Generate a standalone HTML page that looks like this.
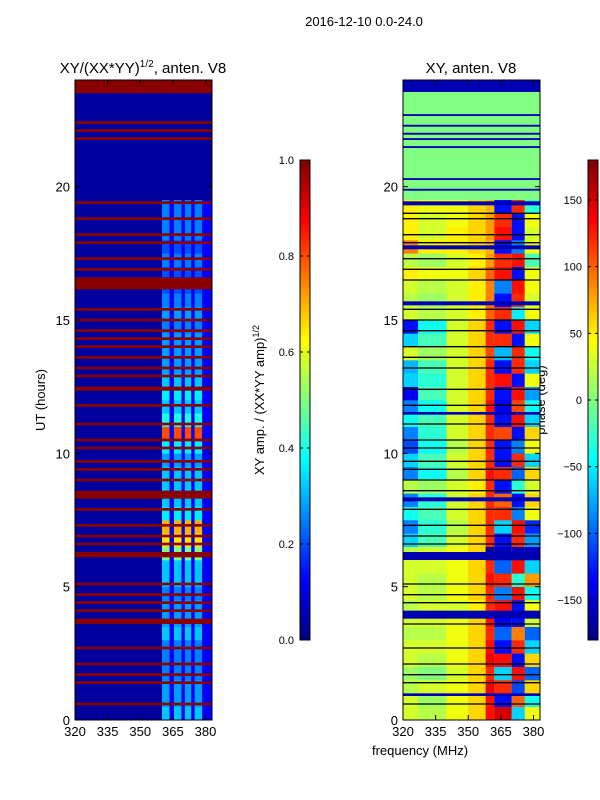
<!DOCTYPE html>
<html><head><meta charset="utf-8"><style>
html,body{margin:0;padding:0;background:#fff;width:600px;height:800px;overflow:hidden}
svg text{font-family:"Liberation Sans","DejaVu Sans",sans-serif;fill:#000}
</style></head><body>
<svg id="svg" width="600" height="800" xmlns="http://www.w3.org/2000/svg">
<text x="364" y="26" font-size="13" text-anchor="middle">2016-12-10 0.0-24.0</text>
<text x="143" y="73" font-size="15" text-anchor="middle">XY/(XX*YY)<tspan font-size="10" dy="-6">1/2</tspan><tspan dy="6">, anten. V8</tspan></text>
<text x="471" y="73" font-size="15" text-anchor="middle">XY, anten. V8</text>
<text transform="translate(45,400) rotate(-90)" font-size="13" text-anchor="middle">UT (hours)</text>
<text transform="translate(264,400) rotate(-90)" font-size="13" text-anchor="middle">XY amp. / (XX*YY amp)<tspan font-size="9" dy="-5">1/2</tspan></text>
<text transform="translate(545,400) rotate(-90)" font-size="13" text-anchor="middle">phase (deg)</text>
<text x="420" y="755" font-size="13" text-anchor="middle">frequency (MHz)</text>
</svg>
<script>
// ---- data ----
const xTicks=[320,335,350,365,380];
const yTicks=[0,5,10,15,20];
const ampTicks=[0.0,0.2,0.4,0.6,0.8,1.0];
const phaseTicks=[-150,-100,-50,0,50,100,150];
const leftFreqEdges=[320,360,363.5,365.5,369,370.5,373.5,375,378.5,383];
const leftBright=[0.32,0.28,0.28,0.25,0.25,0.25,0.32,0.28,0.28,0.25,0.32,0.32,0.5,0.65,0.7,0.36,0.32,0.32,0.32,0.28,0.36,0.8,0.4,0.32,0.36,0.32,0.28,0.28,0.28,0.25,0.28,0.25,0.2,0.2,0.25,0.2,0.25,0.25,0.25];
const leftGap=0.12, leftBase=0.03;
const leftRed=[[23.5,24],[22.35,22.45],[22.05,22.15],[21.75,21.85],[19.35,19.45],[18.75,18.85],[18.15,18.25],[17.85,17.95],[17.25,17.35],[16.85,16.95],[16.15,16.6],[15.35,15.45],[14.95,15.05],[14.55,14.65],[14.25,14.35],[13.95,14.05],[13.55,13.65],[13.15,13.25],[12.85,12.95],[12.35,12.5],[11.75,11.85],[11.05,11.15],[10.45,10.55],[10.15,10.25],[9.65,9.75],[9.35,9.45],[8.95,9.05],[8.3,8.6],[7.85,7.95],[7.25,7.35],[6.85,6.95],[6.55,6.65],[6.1,6.3],[5.05,5.15],[4.65,4.75],[4.35,4.45],[4.05,4.15],[3.6,3.8],[2.65,2.75],[2.05,2.15],[1.65,1.75],[1.35,1.45],[0.55,0.65]];
const rightFreqEdges=[320,327,340,350,358,362,370,376,383];
const rightRows=[
[30,20,40,60,130,150,-60,40],[30,10,40,60,130,-130,100,-40],[20,30,40,60,140,120,-110,60],[10,0,30,60,120,-60,130,-100],[30,20,40,60,140,130,-130,60],[30,30,40,60,130,-130,120,-60],[20,20,40,60,120,-100,90,-100],[30,30,40,60,130,-140,-130,30],[20,30,30,50,120,130,-130,40],[30,20,40,60,120,-90,130,-40],
[30,20,40,60,130,120,-30,80],[30,30,40,60,120,-100,130,-60],[20,30,40,60,-170,-160,-160,-160],[-60,-20,30,60,120,-130,120,-80],[-90,-30,20,60,120,-60,130,-120],[-40,-20,30,60,120,120,-90,40],[-90,-30,30,60,120,100,-130,60],[20,10,30,50,120,-130,-30,30],[-90,-40,20,60,130,120,-100,60],[-60,-20,30,60,120,-130,120,-60],
[-110,-40,20,60,120,-130,-90,40],[-90,-30,30,60,120,110,-130,60],[-40,-20,30,60,120,-130,130,-60],[-90,-40,30,60,130,-140,110,-40],[-140,-20,30,60,120,-130,130,-80],[-60,-30,30,60,120,130,-130,40],[-70,-20,30,60,120,-130,120,-60],[30,10,30,60,110,-70,120,-40],[-60,-20,30,60,120,120,-130,40],[-130,-40,30,60,120,-130,130,-60],
[30,20,30,50,100,120,-50,40],[20,10,30,50,90,-130,120,30],[30,20,30,50,90,-90,130,40],[50,40,40,60,100,130,-130,40],[20,10,30,50,80,120,130,-20],[90,50,50,60,70,-130,-90,40],[50,30,50,60,80,130,-130,30],[50,30,40,60,80,120,-130,40],[50,40,40,60,70,-130,120,-30]];
const rightTopValue=0;
const rightBlue=[[23.55,24],[22.65,22.72],[22.25,22.32],[21.95,22.02],[21.75,21.82],[21.45,21.52],[20.25,20.32],[19.85,19.92],[19.3,19.45],[17.65,17.8],[15.55,15.7],[11.45,11.55],[8.2,8.35],[6.0,6.3],[3.8,4.1],[0.9,1.0]];
const rightBlack=[19.0,18.8,18.2,17.9,17.3,16.9,16.5,15.4,15.0,14.6,14.0,13.6,13.2,12.4,11.8,11.1,10.5,10.2,9.7,9.4,9.0,8.6,7.9,7.3,6.9,6.6,5.1,4.7,4.4,3.6,2.7,2.1,1.7,1.4,0.6];
// ---- drawing ----
const NS="http://www.w3.org/2000/svg";
const svg=document.getElementById('svg');
function jet(x){x=Math.max(0,Math.min(1,x));const c=v=>Math.round(255*Math.max(0,Math.min(1,v)));
return `rgb(${c(1.5-Math.abs(4*x-3))},${c(1.5-Math.abs(4*x-2))},${c(1.5-Math.abs(4*x-1))})`;}
function mk(tag,attrs,parent){const e=document.createElementNS(NS,tag);for(const k in attrs)e.setAttribute(k,attrs[k]);(parent||svg).appendChild(e);return e;}
const Y0=720,Y1=80;
const yS=t=>Y0-(t/24)*(Y0-Y1);
function xS(x0){return f=>x0+(f-320)*137/63;}
const xL=xS(75), xR=xS(403);
function clampX(x,x0){return Math.max(x0,Math.min(x0+137,x));}
// left panel
const gL=mk('g',{});


mk('rect',{x:75,y:80,width:137,height:640,fill:jet(leftBase)},gL);
leftBright.forEach((b,i)=>{
  for(let c=1;c<leftFreqEdges.length-1;c++){
    const v=(c%2===1)?b:leftGap;
    const x1=clampX(xL(leftFreqEdges[c]),75), x2=clampX(xL(leftFreqEdges[c+1]),75);
    const r=mk('rect',{x:x1,y:yS(i*0.5+0.5),width:x2-x1,height:yS(i*0.5)-yS(i*0.5+0.5)+0.3,fill:jet(v)},gL);
    
    
  }
});
leftRed.forEach(([a,b])=>{
  const r=mk('rect',{x:75,y:yS(b),width:137,height:Math.max(1.5,yS(a)-yS(b)),fill:jet(0.99)},gL);
  
  
});
// right panel
const gR=mk('g',{});


const ph=v=>jet((v+180)/360);
mk('rect',{x:403,y:80,width:137,height:640,fill:ph(rightTopValue)},gR);
rightRows.forEach((row,i)=>{
  row.forEach((v,c)=>{
    const x1=clampX(xR(rightFreqEdges[c]),403), x2=clampX(xR(rightFreqEdges[c+1]),403);
    const r=mk('rect',{x:x1,y:yS(i*0.5+0.5),width:x2-x1,height:yS(i*0.5)-yS(i*0.5+0.5)+0.3,fill:ph(v)},gR);
    
    
  });
});
rightBlue.forEach(([a,b])=>{
  const r=mk('rect',{x:403,y:yS(b),width:137,height:Math.max(1.5,yS(a)-yS(b)),fill:jet(0.05)},gR);
  
  
});
rightBlack.forEach(t=>{
  const l=mk('line',{x1:403,x2:540,y1:yS(t),y2:yS(t),stroke:'#000','stroke-width':1.3},gR);
  
  
});
// axes frames and ticks
[[75,xL,'left'],[403,xR,'right']].forEach(([x0,xs,nm])=>{
  const f=mk('rect',{x:x0,y:80,width:137,height:640,fill:'none',stroke:'#000','stroke-width':1});
  
  
  xTicks.forEach(v=>{const x=xs(v);
    mk('line',{x1:x,x2:x,y1:720,y2:715,stroke:'#000'});mk('line',{x1:x,x2:x,y1:80,y2:85,stroke:'#000'});
    const t=mk('text',{x:x,y:736,'font-size':13,'text-anchor':'middle'});t.textContent=v;
    
    });
  yTicks.forEach(v=>{const y=yS(v);
    mk('line',{x1:x0,x2:x0+5,y1:y,y2:y,stroke:'#000'});mk('line',{x1:x0+137,x2:x0+132,y1:y,y2:y,stroke:'#000'});
    const t=mk('text',{x:x0-5,y:y+5,'font-size':13,'text-anchor':'end'});t.textContent=v;
    
    });
});
// colorbars
function colorbar(x,ticks,lo,hi,fmt,nm){
  const g=mk('g',{});
  
  
  for(let i=0;i<240;i++){mk('rect',{x:x,y:640-(i+1)*2,width:10,height:2.4,fill:jet(i/239)},g);}
  mk('rect',{x:x,y:160,width:10,height:480,fill:'none',stroke:'#000'},g);
  ticks.forEach(v=>{const y=640-(v-lo)/(hi-lo)*480;
    mk('line',{x1:x,x2:x+3,y1:y,y2:y,stroke:'#000'},g);mk('line',{x1:x+10,x2:x+7,y1:y,y2:y,stroke:'#000'},g);
    const t=mk('text',{x:x-6,y:y+4,'font-size':11,'text-anchor':'end'},g);t.textContent=fmt(v);
    
    });
}
colorbar(300,ampTicks,0,1,v=>v.toFixed(1),'amp-colorbar');
colorbar(588,phaseTicks,-180,180,v=>v<0?'\u2212'+(-v):String(v),'phase-colorbar');
</script>
</body></html>
